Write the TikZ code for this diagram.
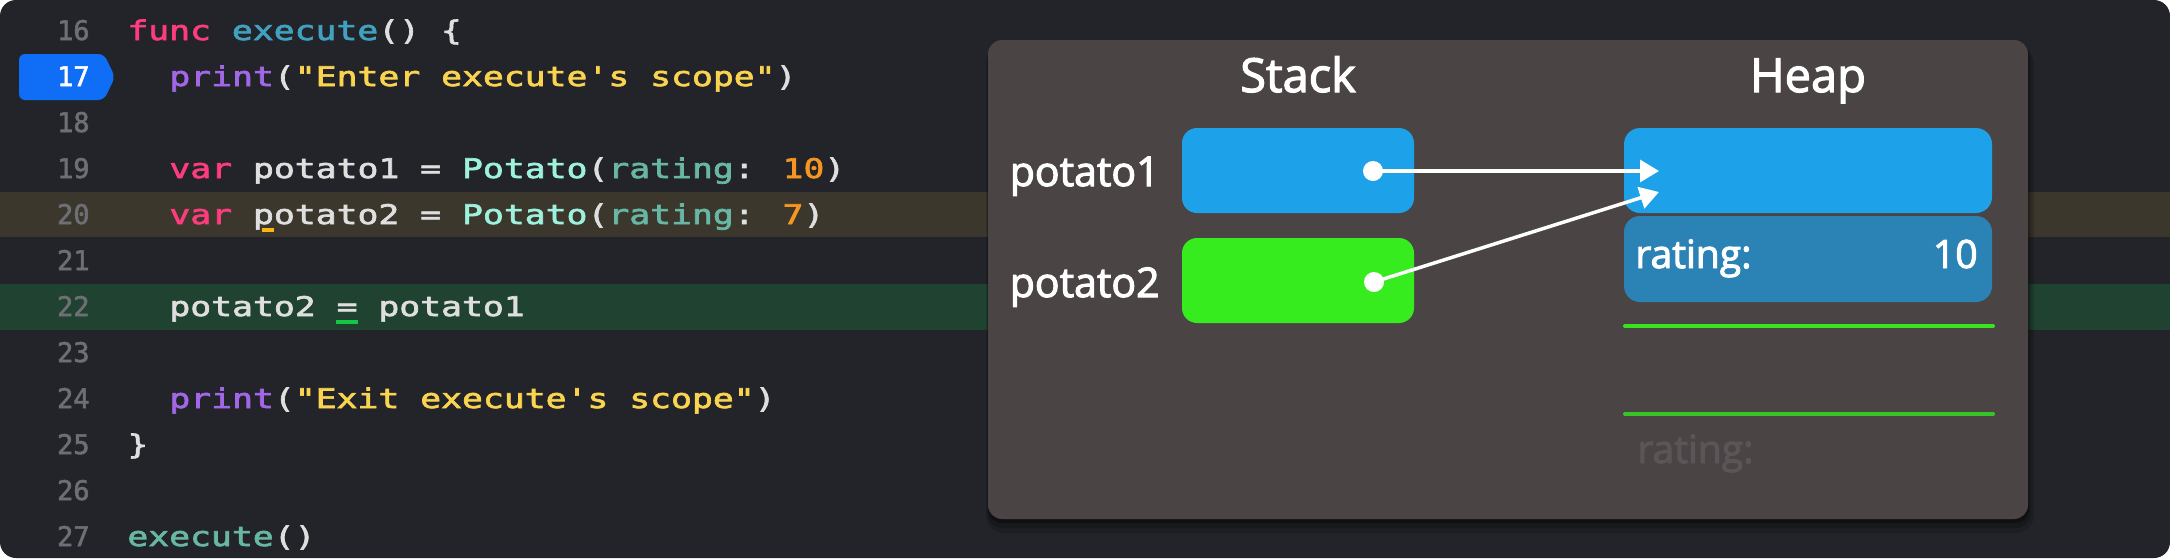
\documentclass[tikz,border=0pt]{standalone}
\usepackage{fontspec}
\setmainfont{Open Sans}
\newfontfamily\medfont{Open Sans}[FakeBold=2.5]
\newfontfamily\codefont{DejaVu Sans Mono}[FakeStretch=1.286,FakeBold=2.5,Ligatures=TeXOff]
\newfontfamily\numfont{DejaVu Sans Mono}[FakeBold=2,Ligatures=TeXOff]
\usetikzlibrary{arrows.meta}
\definecolor{bg}{RGB}{35,36,41}
\definecolor{bandA}{RGB}{59,55,45}
\definecolor{bandB}{RGB}{32,66,48}
\definecolor{panelc}{RGB}{74,68,69}
\definecolor{lnum}{RGB}{110,111,116}
\definecolor{badge}{RGB}{15,110,245}
\definecolor{kw}{RGB}{252,60,125}
\definecolor{decl}{RGB}{65,161,192}
\definecolor{fn}{RGB}{161,103,230}
\definecolor{str}{RGB}{250,212,80}
\definecolor{typ}{RGB}{158,241,221}
\definecolor{prm}{RGB}{103,183,164}
\definecolor{numc}{RGB}{245,150,35}
\definecolor{plain}{RGB}{223,223,224}
\definecolor{sblue}{RGB}{29,161,232}
\definecolor{rblue}{RGB}{42,130,181}
\definecolor{sgreen}{RGB}{55,236,30}
\definecolor{gline}{RGB}{55,228,30}
\definecolor{glineB}{RGB}{58,195,38}
\definecolor{faded}{RGB}{90,85,86}
\definecolor{curO}{RGB}{250,180,20}
\definecolor{curG}{RGB}{20,200,70}
\begin{document}
\begin{tikzpicture}[x=0.5pt,y=-0.5pt,
  code/.style={anchor=base west,inner sep=0pt,text=plain,font=\codefont\fontsize{13.5pt}{13.5pt}\selectfont},
  lno/.style={anchor=base east,inner sep=0pt,text=lnum,font=\numfont\fontsize{13.5pt}{13.5pt}\selectfont},
  cell/.style={draw=none,rounded corners=7.5pt,inner sep=0pt,minimum height=42.5pt},
  title/.style={anchor=base,inner sep=0pt,text=white,font=\medfont\fontsize{23.5pt}{25pt}\selectfont},
  lbl/.style={anchor=base east,inner sep=0pt,text=white,font=\medfont\fontsize{20.5pt}{22pt}\selectfont},
  rat/.style={inner sep=0pt,text=white,font=\medfont\fontsize{19.5pt}{21pt}\selectfont},
  dot/.style={circle,fill=white,inner sep=0pt,minimum size=10pt},
  ptr/.style={white,line width=1.75pt,-{Triangle[length=9.5pt,width=11pt]}},
  gl/.style={line width=2pt,line cap=round}]
\useasboundingbox (0,0) rectangle (2170,558);
\fill[white] (0,0) rectangle (2170,558);
\fill[bg,rounded corners=8pt] (0,0) rectangle (2170,558);
% highlighted rows
\fill[bandA] (0,192) rectangle (2170,237);
\fill[bandB] (0,284) rectangle (2170,330);
% breakpoint badge
\fill[badge,rounded corners=3pt] (19,54) -- (104,54) -- (115,77) -- (104,100) -- (19,100) -- cycle;
% line numbers
\node[lno] (n16) at (90,40) {16};
\node[lno,text=white] (n17) at (90,86) {17};
\node[lno] (n18) at (90,132) {18};
\node[lno] (n19) at (90,178) {19};
\node[lno] (n20) at (90,224) {20};
\node[lno] (n21) at (90,270) {21};
\node[lno] (n22) at (90,316) {22};
\node[lno] (n23) at (90,362) {23};
\node[lno] (n24) at (90,408) {24};
\node[lno] (n25) at (90,454) {25};
\node[lno] (n26) at (90,500) {26};
\node[lno] (n27) at (90,546) {27};
% code
\node[code] (c16) at (127,40) {\textcolor{kw}{func} \textcolor{decl}{execute}() \{};
\node[code] (c17) at (169,86) {\textcolor{fn}{print}(\textcolor{str}{"Enter execute's scope"})};
\node[code] (c19) at (169,178) {\textcolor{kw}{var} potato1 = \textcolor{typ}{Potato}(\textcolor{prm}{rating}: \textcolor{numc}{10})};
\node[code] (c20) at (169,224) {\textcolor{kw}{var} potato2 = \textcolor{typ}{Potato}(\textcolor{prm}{rating}: \textcolor{numc}{7})};
\node[code] (c22) at (169,316) {potato2 = potato1};
\node[code] (c24) at (169,408) {\textcolor{fn}{print}(\textcolor{str}{"Exit execute's scope"})};
\node[code] (c25) at (127,454) {\}};
\node[code] (c27) at (127,546) {\textcolor{prm}{execute}()};
% cursor marks
\fill[curO] (262,228) rectangle (274,232);
\fill[curG] (336,320) rectangle (358,324);
% panel shadow
\fill[black,opacity=0.15,rounded corners=9pt] (986,46) rectangle (2034,533);
\fill[black,opacity=0.2,rounded corners=8pt] (987,44) rectangle (2031,528);
\fill[black,opacity=0.3,rounded corners=7pt] (988,42) rectangle (2029,523);
% panel
\fill[panelc,rounded corners=7pt] (988,40) rectangle (2028,519);
\node[title] (stackT) at (1298,92) {Stack};
\node[title] (heapT) at (1808,92) {Heap};
% stack cells
\node[cell,fill=sblue,minimum width=116pt] (s1) at (1298,170.5) {};
\node[cell,fill=sgreen,minimum width=116pt] (s2) at (1298,280.5) {};
\node[lbl] (p1) at (1160,186) {potato1};
\node[lbl] (p2) at (1160,297) {potato2};
% heap object
\node[cell,fill=sblue,minimum width=184pt,rounded corners=8pt] (hobj) at (1808,170.5) {};
\node[cell,fill=rblue,minimum width=184pt,minimum height=43pt,rounded corners=8pt] (hrate) at (1808,259) {};
\node[rat,anchor=base west] (rl) at (1635,268) {rating:};
\node[rat,anchor=base east] (rv) at (1978,268) {10};
% freed object
\draw[gl,gline] (1625,326) -- (1993,326);
\draw[gl,glineB] (1625,414) -- (1993,414);
\node[rat,anchor=base west,text=faded] (rf) at (1637,463) {rating:};
% pointers
\node[dot] (d1) at (1373,171) {};
\node[dot] (d2) at (1374,282) {};
\coordinate (t1) at (1659,171);
\coordinate (t2) at (1659,192);
\draw[ptr] (d1.center) -- (t1);
\draw[ptr] (d2.center) -- (t2);
\end{tikzpicture}
\end{document}
